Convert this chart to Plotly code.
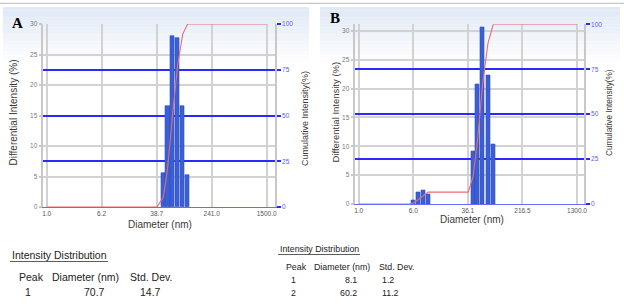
import numpy as np
import plotly.graph_objects as go

W, H = 624, 307

# ---------------- data ----------------
# Panel A
diam_A = [48.5, 56.0, 65.5, 78.0, 92.0, 108.5]
inten_A = [5.5, 16.6, 28.1, 27.7, 16.6, 5.2]
cum_diam_A = [1.0, 39.0, 48.5, 56.0, 65.5, 78.0, 92.0, 108.5, 1500.0]
cum_A = [0, 0, 5.5, 22.1, 50.2, 77.9, 94.5, 100, 100]
xticks_A = [1.0, 6.2, 38.7, 241.0, 1500.0]
xtext_A = ["1.0", "6.2", "38.7", "241.0", "1500.0"]

# Panel B
diam_B = [6.1, 7.15, 8.4, 9.8, 43.0, 49.9, 58.7, 69.9, 83.2]
inten_B = [0.6, 2.0, 2.4, 1.6, 9.1, 20.8, 30.6, 22.4, 10.4]
cum_diam_B = [1.0, 5.3, 6.1, 7.15, 8.4, 9.8, 36.5, 43.0, 49.9, 58.7, 69.9, 83.2, 1300.0]
cum_B = [0, 0, 0.6, 2.6, 5.0, 6.6, 6.6, 15.7, 36.5, 67.1, 89.5, 100, 100]
xticks_B = [1.0, 6.0, 36.1, 216.5, 1300.0]
xtext_B = ["1.0", "6.0", "36.1", "216.5", "1300.0"]

left_ticks = [0, 5, 10, 15, 20, 25, 30]
right_ticks = [0, 25, 50, 75, 100]

table_A = {"peak": ["1"], "diam": ["70.7"], "sd": ["14.7"]}
table_B = {"peak": ["1", "2"], "diam": ["8.1", "60.2"], "sd": ["1.2", "11.2"]}

# ---------------- helpers ----------------
def px(x):
    return x / W

def py(y):
    return 1 - y / H

BAR = "#3a5fd6"
BAR_EDGE = "#3050c0"
RED = "#ec6b74"
BLUE = "#2a2aff"
GRID = "#d2d2d2"
FONT = "Liberation Sans"

fig = go.Figure()

fig.add_trace(go.Bar(x=np.log10(diam_A), y=inten_A, width=0.058,
                     marker=dict(color=BAR, line=dict(color=BAR_EDGE, width=0.6)),
                     xaxis="x", yaxis="y", showlegend=False))
fig.add_trace(go.Scatter(x=np.log10(cum_diam_A), y=cum_A, mode="lines",
                         line=dict(color=RED, width=1.1),
                         xaxis="x", yaxis="y2", showlegend=False))
fig.add_trace(go.Bar(x=np.log10(diam_B), y=inten_B, width=0.058,
                     marker=dict(color=BAR, line=dict(color=BAR_EDGE, width=0.6)),
                     xaxis="x2", yaxis="y3", showlegend=False))
fig.add_trace(go.Scatter(x=np.log10(cum_diam_B), y=cum_B, mode="lines",
                         line=dict(color=RED, width=1.1),
                         xaxis="x2", yaxis="y4", showlegend=False))

tickfont_grey = dict(family=FONT, size=6.5, color="#7a7a7a")
tickfont_x = dict(family=FONT, size=6.5, color="#555555")
tickfont_blue = dict(family=FONT, size=6.5, color="#5a5aff")


def xaxis(domain, rng, ticks, texts, anchor):
    return dict(domain=domain, range=rng, anchor=anchor, automargin=False,
                tickmode="array", tickvals=list(np.log10(ticks)), ticktext=texts,
                showgrid=True, gridcolor=GRID, gridwidth=1.5,
                showline=True, linecolor="#6a6aff", linewidth=1,
                ticks="", tickfont=tickfont_x, zeroline=False, fixedrange=True)


def yleft(domain, rng, anchor):
    return dict(domain=domain, range=rng, anchor=anchor, automargin=False,
                tickmode="array", tickvals=left_ticks,
                showgrid=True, gridcolor=GRID, gridwidth=1.5,
                showline=True, linecolor="#c8c8c8", linewidth=1.5,
                ticks="outside", ticklen=3, tickcolor="#c8c8c8", tickwidth=1.5,
                tickfont=tickfont_grey, zeroline=False, fixedrange=True)


def yright(overlay, rng, anchor):
    return dict(overlaying=overlay, side="right", range=rng, anchor=anchor, automargin=False,
                tickmode="array", tickvals=right_ticks,
                showgrid=True, gridcolor=BLUE, gridwidth=2,
                showline=True, linecolor="#c8c8c8", linewidth=1.5,
                ticks="outside", ticklen=4, tickcolor=BLUE, tickwidth=2,
                tickfont=tickfont_blue, zeroline=False, fixedrange=True)


fig.update_layout(
    width=W, height=H, margin=dict(l=0, r=0, t=0, b=0, autoexpand=False),
    paper_bgcolor="white", plot_bgcolor="rgba(0,0,0,0)",
    bargap=0, barmode="overlay",
    xaxis=xaxis([px(43.3), px(275)], [-0.049, 3.296], xticks_A, xtext_A, "y"),
    yaxis=yleft([py(207), py(24)], [0, 30], "x"),
    yaxis2=yright("y", [0, 100], "x"),
    xaxis2=xaxis([px(355.3), px(584)], [-0.0485, 3.214], xticks_B, xtext_B, "y3"),
    yaxis3=yleft([py(204), py(24.3)], [0, 31.16], "x2"),
    yaxis4=yright("y3", [0, 100], "x2"),
)

shapes = []
# top border line
shapes.append(dict(type="line", xref="paper", yref="paper", x0=0, x1=1,
                   y0=py(3.3), y1=py(3.3), line=dict(color="#c8c8c8", width=1.2), layer="below"))
# gradient header backgrounds of the two screenshots
top_col = np.array([224, 233, 246])
n = 16
for (xa, xb) in [(3, 309), (320, 620)]:
    for i in range(n):
        f = i / n
        c = top_col + (np.array([255, 255, 255]) - top_col) * f
        y0 = 7 + i * (55 / n)
        y1 = 7 + (i + 1) * (55 / n)
        shapes.append(dict(type="rect", xref="paper", yref="paper",
                           x0=px(xa), x1=px(xb), y0=py(y1), y1=py(y0),
                           fillcolor="rgb(%d,%d,%d)" % tuple(c.astype(int)),
                           line=dict(width=0), layer="below"))
# underlines of the table headings
shapes.append(dict(type="line", xref="paper", yref="paper", x0=px(10), x1=px(108),
                   y0=py(261.5), y1=py(261.5), line=dict(color="#333", width=0.8)))
shapes.append(dict(type="line", xref="paper", yref="paper", x0=px(278), x1=px(360),
                   y0=py(254.5), y1=py(254.5), line=dict(color="#333", width=0.8)))
fig.update_layout(shapes=shapes)

ann = []

def text(x, y, s, size, xanchor="center", color="#222", family=FONT, angle=0, bold=False):
    ann.append(dict(x=px(x), y=py(y), xref="paper", yref="paper", text=("<b>%s</b>" % s) if bold else s,
                    showarrow=False, xanchor=xanchor, yanchor="middle", textangle=angle,
                    font=dict(family=family, size=size, color=color)))

# panel letters
text(17.5, 23, "A", 15, family="Liberation Serif", color="#000", bold=True)
text(334.5, 18, "B", 15, family="Liberation Serif", color="#000", bold=True)
# axis titles
text(13.5, 113, "Differential Intensity (%)", 10, color="#3a3a3a", angle=-90)
text(305, 119, "Cumulative Intensity(%)", 9, color="#3a3a3a", angle=-90)
text(160, 224, "Diameter (nm)", 10, color="#3a3a3a")
text(335.5, 112, "Differential Intensity (%)", 9.5, color="#3a3a3a", angle=-90)
text(610, 113, "Cumulative Intensity(%)", 8.2, color="#3a3a3a", angle=-90)
text(472, 219, "Diameter (nm)", 10, color="#3a3a3a")

# table A
text(10, 255, "Intensity Distribution", 10.5, xanchor="left")
text(17, 277, "Peak", 10.5, xanchor="left")
text(50, 277, "Diameter (nm)", 10.5, xanchor="left")
text(128, 277, "Std. Dev.", 10.5, xanchor="left")
for i in range(len(table_A["peak"])):
    yy = 292 + i * 14
    text(27.5, yy, table_A["peak"][i], 10.5)
    text(107, yy, table_A["diam"][i], 10.5, xanchor="right")
    text(138, yy, table_A["sd"][i], 10.5, xanchor="left")

# table B
text(278, 249, "Intensity Distribution", 8.8, xanchor="left")
text(284, 266.5, "Peak", 8.8, xanchor="left")
text(312, 266.5, "Diameter (nm)", 8.8, xanchor="left")
text(377, 266.5, "Std. Dev.", 8.8, xanchor="left")
for i in range(len(table_B["peak"])):
    yy = 279.5 + i * 13.5
    text(293, yy, table_B["peak"][i], 8.8)
    text(358.5, yy, table_B["diam"][i], 8.8, xanchor="right")
    text(380, yy, table_B["sd"][i], 8.8, xanchor="left")

fig.update_layout(annotations=ann)

fig.write_html("out.html", config={"displayModeBar": False},
               post_script="document.body.style.margin='0';document.body.style.padding='0';"
                           "document.documentElement.style.overflow='hidden';")
